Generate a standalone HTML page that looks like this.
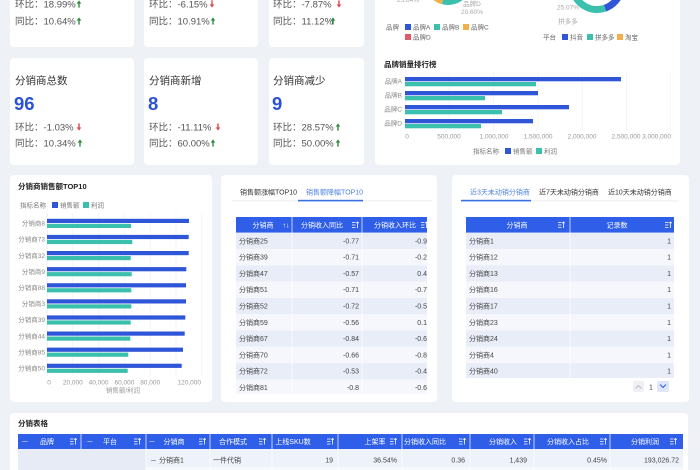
<!DOCTYPE html>
<html><head><meta charset="utf-8"><style>
html,body{margin:0;padding:0;width:700px;height:470px;overflow:hidden;background:#eef1f6}
svg{display:block}
text{font-family:"Liberation Sans","Noto Sans CJK SC",sans-serif}
</style></head><body>
<svg width="700" height="470" viewBox="0 0 700 470" xmlns="http://www.w3.org/2000/svg">
<defs>
<path id="up" d="M0,-3.6 L2.3,-0.4 L0.7,-0.4 L0.7,3.6 L-0.7,3.6 L-0.7,-0.4 L-2.3,-0.4Z"/>
<path id="dn" d="M0,3.6 L2.3,0.4 L0.7,0.4 L0.7,-3.6 L-0.7,-3.6 L-0.7,0.4 L-2.3,0.4Z"/>
<g id="si" stroke="#fff" stroke-width="0.8" fill="none"><path d="M0,-2.5h3.5M0,0h3.5M0,2.5h3.5M5.5,-3v6M4.3,-1.8L5.5,-3L6.7,-1.8"/></g>
<clipPath id="c1"><rect x="236" y="217" width="191" height="177"/></clipPath>
<clipPath id="c2"><rect x="466" y="217" width="208" height="161"/></clipPath>
<clipPath id="c3"><rect x="10" y="413" width="678" height="57"/></clipPath>
</defs>
<rect width="700" height="470" fill="#eef1f6"/>

<g fill="#fff">
<rect x="10" y="-10" width="124" height="57" rx="4"/>
<rect x="144" y="-10" width="114" height="57" rx="4"/>
<rect x="269" y="-10" width="95" height="57" rx="4"/>
<rect x="10" y="58" width="124" height="107" rx="4"/>
<rect x="144" y="58" width="114" height="107" rx="4"/>
<rect x="269" y="58" width="95" height="107" rx="4"/>
<rect x="375" y="-10" width="305" height="175" rx="4"/>
<rect x="10" y="175" width="202" height="227" rx="4"/>
<rect x="221" y="175" width="216" height="227" rx="4"/>
<rect x="452" y="175" width="237" height="227" rx="4"/>
<rect x="10" y="413" width="678" height="70" rx="4"/>
</g>

<g font-size="9.5" fill="#555">
<text x="15" y="7.5">环比：18.99%</text><text x="15" y="24.5">同比：10.64%</text>
<text x="149" y="7.5">环比：-6.15%</text><text x="149" y="24.5">同比：10.91%</text>
<text x="273" y="7.5">环比：-7.87%</text><text x="273" y="24.5">同比：11.12%</text>
<text x="15" y="130.5">环比：-1.03%</text><text x="15" y="146.5">同比：10.34%</text>
<text x="149" y="130.5">环比：-11.11%</text><text x="149" y="146.5">同比：60.00%</text>
<text x="273" y="130.5">环比：28.57%</text><text x="273" y="146.5">同比：50.00%</text>
</g>
<g fill="#2e8b3e">
<use href="#up" x="79" y="4"/><use href="#up" x="79" y="21"/>
<use href="#up" x="213" y="21"/><use href="#up" x="333" y="21"/>
<use href="#up" x="80" y="143"/><use href="#up" x="213" y="143"/>
<use href="#up" x="338" y="127"/><use href="#up" x="338" y="143"/>
</g>
<g fill="#e0484f">
<use href="#dn" x="212" y="4"/><use href="#dn" x="339" y="4"/>
<use href="#dn" x="79" y="127"/><use href="#dn" x="218" y="127"/>
</g>
<g font-size="10.5" fill="#333">
<text x="15" y="84">分销商总数</text><text x="149" y="84">分销商新增</text><text x="273" y="84">分销商减少</text>
</g>
<g font-size="18.5" fill="#2b52d4" font-weight="bold">
<text x="14" y="110">96</text><text x="148" y="110">8</text><text x="272" y="110">9</text>
</g>

<path d="M462.85,-4.15 A21,21 0 0 1 442.57,1.28" stroke="#3cc0ae" stroke-width="6" fill="none"/>
<path d="M442.57,1.28 A21,21 0 0 1 431.9,-5.5" stroke="#f1b04a" stroke-width="6" fill="none"/>
<path d="M621.1,-10.75 A24.5,24.5 0 0 1 605,8.16" stroke="#2f55d8" stroke-width="7" fill="none"/>
<path d="M605,8.16 A24.5,24.5 0 0 1 574,-6.6" stroke="#3cc0ae" stroke-width="7" fill="none"/>
<g font-size="6.5" fill="#aaa">
<text x="397" y="2">25.64%</text>
<text x="472" y="6" text-anchor="middle">品牌D</text>
<text x="472" y="14" text-anchor="middle">20.60%</text>
<text x="568" y="9.5" text-anchor="middle">25.07%</text>
<text x="568" y="23.5" text-anchor="middle">拼多多</text>
</g>
<g font-size="6.5" fill="#666">
<text x="386" y="29.5">品牌</text>
<rect x="405" y="24" width="6" height="6" fill="#2f55d8"/><text x="413" y="29.5">品牌A</text>
<rect x="434" y="24" width="6" height="6" fill="#3cc0ae"/><text x="442" y="29.5">品牌B</text>
<rect x="463" y="24" width="6" height="6" fill="#f1b04a"/><text x="471" y="29.5">品牌C</text>
<rect x="405" y="34" width="6" height="6" fill="#e05a6e"/><text x="413" y="39.5">品牌D</text>
<text x="543" y="39.5">平台</text>
<rect x="562" y="34" width="6" height="6" fill="#2f55d8"/><text x="570" y="39.5">抖音</text>
<rect x="587" y="34" width="6" height="6" fill="#3cc0ae"/><text x="595" y="39.5">拼多多</text>
<rect x="617" y="34" width="6" height="6" fill="#f1b04a"/><text x="625" y="39.5">淘宝</text>
</g>

<text x="384" y="67" font-size="7.5" font-weight="bold" fill="#222">品牌销量排行榜</text>
<g stroke="#f0f0f0" stroke-width="0.7">
<path d="M405,72V131M449.3,72V131M493.6,72V131M537.9,72V131M582.2,72V131M626.5,72V131M670.8,72V131"/>
</g>
<g fill="#2f55d8">
<rect x="405" y="77" width="216" height="4.3"/><rect x="405" y="91" width="133" height="4.3"/>
<rect x="405" y="105" width="164" height="4.3"/><rect x="405" y="119" width="128" height="4.3"/>
</g>
<g fill="#3cc0ae">
<rect x="405" y="82" width="131" height="4.3"/><rect x="405" y="96" width="80" height="4.3"/>
<rect x="405" y="110" width="97" height="4.3"/><rect x="405" y="124" width="76" height="4.3"/>
</g>
<g font-size="6.5" fill="#888" text-anchor="end">
<text x="402" y="83.3">品牌A</text><text x="402" y="97.3">品牌B</text>
<text x="402" y="111.3">品牌C</text><text x="402" y="125.3">品牌D</text>
</g>
<g font-size="6.5" fill="#999" text-anchor="middle">
<text x="407" y="138.5">0</text><text x="449" y="138.5">500,000</text><text x="494" y="138.5">1,000,000</text>
<text x="538" y="138.5">1,500,000</text><text x="582" y="138.5">2,000,000</text><text x="626" y="138.5">2,500,000</text>
<text x="671" y="138.5" text-anchor="end">3,000,000</text>
</g>
<g font-size="6.5" fill="#777">
<text x="473" y="153.3">指标名称</text>
<rect x="505" y="148" width="6" height="6" fill="#2f55d8"/><text x="513" y="153.3">销售额</text>
<rect x="536" y="148" width="6" height="6" fill="#3cc0ae"/><text x="544" y="153.3">利润</text>
</g>

<text x="18" y="189" font-size="7.5" font-weight="bold" fill="#222">分销商销售额TOP10</text>
<g font-size="6.5" fill="#777">
<text x="20" y="207.5">指标名称</text>
<rect x="52" y="202" width="6" height="6" fill="#2f55d8"/><text x="60" y="207.5">销售额</text>
<rect x="83" y="202" width="6" height="6" fill="#3cc0ae"/><text x="91" y="207.5">利润</text>
</g>
<g stroke="#f0f0f0" stroke-width="0.7">
<path d="M72.8,213V376M98.6,213V376M124.4,213V376M150.2,213V376M176,213V376M201.8,213V376"/>
</g>
<path d="M47,213V376" stroke="#e3e3e3" stroke-width="0.7"/>
<g fill="#2f55d8">
<rect x="47" y="218.8" width="142" height="4.2"/><rect x="47" y="234.9" width="141.7" height="4.2"/>
<rect x="47" y="251" width="141.7" height="4.2"/><rect x="47" y="267.1" width="139.3" height="4.2"/>
<rect x="47" y="283.2" width="139" height="4.2"/><rect x="47" y="299.3" width="139" height="4.2"/>
<rect x="47" y="315.4" width="138.3" height="4.2"/><rect x="47" y="331.5" width="137.7" height="4.2"/>
<rect x="47" y="347.6" width="136" height="4.2"/><rect x="47" y="363.7" width="134.7" height="4.2"/>
</g>
<g fill="#3cc0ae">
<rect x="47" y="223.8" width="84" height="4.2"/><rect x="47" y="239.9" width="85.3" height="4.2"/>
<rect x="47" y="256" width="83.7" height="4.2"/><rect x="47" y="272.1" width="84.7" height="4.2"/>
<rect x="47" y="288.2" width="84.3" height="4.2"/><rect x="47" y="304.3" width="84.3" height="4.2"/>
<rect x="47" y="320.4" width="83.7" height="4.2"/><rect x="47" y="336.5" width="83.3" height="4.2"/>
<rect x="47" y="352.6" width="81.3" height="4.2"/><rect x="47" y="368.7" width="80.7" height="4.2"/>
</g>
<g font-size="6.5" fill="#888" text-anchor="end">
<text x="45" y="225.6">分销商8</text><text x="45" y="241.7">分销商73</text><text x="45" y="257.8">分销商32</text>
<text x="45" y="273.9">分销商9</text><text x="45" y="290">分销商88</text><text x="45" y="306.1">分销商3</text>
<text x="45" y="322.2">分销商39</text><text x="45" y="338.3">分销商44</text><text x="45" y="354.4">分销商85</text>
<text x="45" y="370.5">分销商50</text>
</g>
<g font-size="6.5" fill="#999" text-anchor="middle">
<text x="49" y="384.5">0</text><text x="72.8" y="384.5">20,000</text><text x="98.6" y="384.5">40,000</text>
<text x="124.4" y="384.5">60,000</text><text x="150.2" y="384.5">80,000</text><text x="201" y="384.5" text-anchor="end">120,000</text>
<text x="123" y="392.5">销售额/利润</text>
</g>

<g font-size="7">
<text x="240" y="194.5" fill="#333">销售额涨幅TOP10</text>
<text x="306" y="194.5" fill="#4f82e3">销售额降幅TOP10</text>
</g>
<rect x="232" y="200.5" width="200" height="0.8" fill="#e8e8e8"/>
<rect x="298" y="199.8" width="65" height="1.6" fill="#3a6fe0"/>
<g clip-path="url(#c1)">
<rect x="236" y="217" width="200" height="15.7" fill="#2f5fe8"/>
<g fill="#e8edf8"><rect x="236" y="232.7" width="200" height="16.3"/><rect x="236" y="265.3" width="200" height="16.3"/><rect x="236" y="297.9" width="200" height="16.3"/><rect x="236" y="330.5" width="200" height="16.3"/><rect x="236" y="363.1" width="200" height="16.3"/></g>
<g fill="#f5f7fc"><rect x="236" y="249" width="200" height="16.3"/><rect x="236" y="281.6" width="200" height="16.3"/><rect x="236" y="314.2" width="200" height="16.3"/><rect x="236" y="346.8" width="200" height="16.3"/><rect x="236" y="379.4" width="200" height="16.3"/></g>
<path d="M292,217V396M362,217V396" stroke="#fff" stroke-width="0.7"/>
<g font-size="7" fill="#fff" text-anchor="middle">
<text x="263" y="227.5">分销商</text><text x="322" y="227.5">分销收入同比</text><text x="395" y="227.5">分销收入环比</text>
</g>
<text x="286" y="227.5" font-size="7" fill="#fff" text-anchor="middle">↑↓</text>
<use href="#si" x="352" y="225"/><use href="#si" x="421" y="225"/>
<g font-size="7" fill="#444">
<text x="239" y="243.3">分销商25</text><text x="239" y="259.6">分销商39</text><text x="239" y="275.9">分销商47</text>
<text x="239" y="292.2">分销商51</text><text x="239" y="308.5">分销商52</text><text x="239" y="324.8">分销商59</text>
<text x="239" y="341.1">分销商67</text><text x="239" y="357.4">分销商70</text><text x="239" y="373.7">分销商72</text>
<text x="239" y="390">分销商81</text>
</g>
<g font-size="7" fill="#444" text-anchor="end">
<text x="359" y="243.3">-0.77</text><text x="359" y="259.6">-0.71</text><text x="359" y="275.9">-0.57</text>
<text x="359" y="292.2">-0.71</text><text x="359" y="308.5">-0.72</text><text x="359" y="324.8">-0.56</text>
<text x="359" y="341.1">-0.84</text><text x="359" y="357.4">-0.66</text><text x="359" y="373.7">-0.53</text>
<text x="359" y="390">-0.8</text>
<text x="427" y="243.3">-0.9</text><text x="427" y="259.6">-0.2</text><text x="427" y="275.9">0.4</text>
<text x="427" y="292.2">-0.7</text><text x="427" y="308.5">-0.5</text><text x="427" y="324.8">0.1</text>
<text x="427" y="341.1">-0.6</text><text x="427" y="357.4">-0.8</text><text x="427" y="373.7">-0.4</text>
<text x="427" y="390">-0.6</text>
</g>
</g>

<g font-size="7">
<text x="470" y="194.5" fill="#4f82e3">近3天未动销分销商</text>
<text x="539" y="194.5" fill="#333">近7天未动销分销商</text>
<text x="608" y="194.5" fill="#333">近10天未动销分销商</text>
</g>
<rect x="461" y="200.5" width="218" height="0.8" fill="#e8e8e8"/>
<rect x="461" y="199.8" width="70" height="1.6" fill="#3a6fe0"/>
<g clip-path="url(#c2)">
<rect x="466" y="217" width="208" height="15.7" fill="#2f5fe8"/>
<g fill="#e8edf8"><rect x="466" y="232.7" width="208" height="16.3"/><rect x="466" y="265.3" width="208" height="16.3"/><rect x="466" y="297.9" width="208" height="16.3"/><rect x="466" y="330.5" width="208" height="16.3"/><rect x="466" y="363.1" width="208" height="16.3"/></g>
<g fill="#f5f7fc"><rect x="466" y="249" width="208" height="16.3"/><rect x="466" y="281.6" width="208" height="16.3"/><rect x="466" y="314.2" width="208" height="16.3"/><rect x="466" y="346.8" width="208" height="16.3"/></g>
<path d="M570,217V380" stroke="#fff" stroke-width="0.7"/>
<g font-size="7" fill="#fff" text-anchor="middle">
<text x="517" y="227.5">分销商</text><text x="617" y="227.5">记录数</text>
</g>
<use href="#si" x="558" y="225"/><use href="#si" x="665" y="225"/>
<g font-size="7" fill="#444">
<text x="469" y="243.3">分销商1</text><text x="469" y="259.6">分销商12</text><text x="469" y="275.9">分销商13</text>
<text x="469" y="292.2">分销商16</text><text x="469" y="308.5">分销商17</text><text x="469" y="324.8">分销商23</text>
<text x="469" y="341.1">分销商24</text><text x="469" y="357.4">分销商4</text><text x="469" y="373.7">分销商40</text>
</g>
<g font-size="7" fill="#444" text-anchor="end">
<text x="671" y="243.3">1</text><text x="671" y="259.6">1</text><text x="671" y="275.9">1</text>
<text x="671" y="292.2">1</text><text x="671" y="308.5">1</text><text x="671" y="324.8">1</text>
<text x="671" y="341.1">1</text><text x="671" y="357.4">1</text><text x="671" y="373.7">1</text>
</g>
</g>
<rect x="633" y="381" width="11" height="11" rx="1.5" fill="#eef0f5"/>
<path d="M635.5,388.5L638.5,385.5L641.5,388.5" stroke="#bbb" stroke-width="0.9" fill="none"/>
<text x="651" y="389.5" font-size="7" fill="#444" text-anchor="middle">1</text>
<rect x="657" y="381" width="12" height="11" rx="1.5" fill="#dfe7fa"/>
<path d="M660,384.5L663,387.5L666,384.5" stroke="#2f5fe8" stroke-width="1.1" fill="none"/>

<text x="18" y="426" font-size="7.5" font-weight="bold" fill="#222">分销表格</text>
<g clip-path="url(#c3)">
<rect x="18" y="434" width="665" height="15" fill="#2f5fe8"/>
<rect x="18" y="449" width="128" height="25" fill="#e6ebf5"/>
<rect x="146" y="449" width="537" height="18" fill="#eef2fa"/>
<rect x="146" y="467" width="537" height="10" fill="#f8f9fc"/>
<path d="M81,434V449M146,434V470M210,434V470M272,434V470M338,434V470M402,434V470M470,434V470M534,434V470M610,434V470" stroke="#fff" stroke-width="0.7"/>
<g font-size="7" fill="#fff" text-anchor="middle">
<text x="25" y="444">－</text><text x="47" y="444">品牌</text>
<text x="90" y="444">－</text><text x="110" y="444">平台</text>
<text x="152" y="444">－</text><text x="174" y="444">分销商</text>
<text x="233" y="444">合作模式</text><text x="293" y="444">上线SKU数</text>
<text x="375" y="444">上架率</text><text x="425" y="444">分销收入同比</text>
<text x="503" y="444">分销收入</text><text x="568" y="444">分销收入占比</text>
<text x="645" y="444">分销利润</text>
</g>
<use href="#si" x="70" y="441.5"/><use href="#si" x="134" y="441.5"/><use href="#si" x="199" y="441.5"/>
<use href="#si" x="259" y="441.5"/><use href="#si" x="327" y="441.5"/><use href="#si" x="390" y="441.5"/>
<use href="#si" x="459" y="441.5"/><use href="#si" x="524" y="441.5"/><use href="#si" x="600" y="441.5"/>
<use href="#si" x="670" y="441.5"/>
<g font-size="7" fill="#444">
<text x="150" y="462.5">－ 分销商1</text><text x="213" y="462.5">一件代销</text>
</g>
<g font-size="7" fill="#444" text-anchor="end">
<text x="333" y="462.5">19</text><text x="397" y="462.5">36.54%</text><text x="465" y="462.5">0.36</text>
<text x="527" y="462.5">1,439</text><text x="607" y="462.5">0.45%</text><text x="679" y="462.5">193,026.72</text>
</g>
</g>
</svg>
</body></html>
